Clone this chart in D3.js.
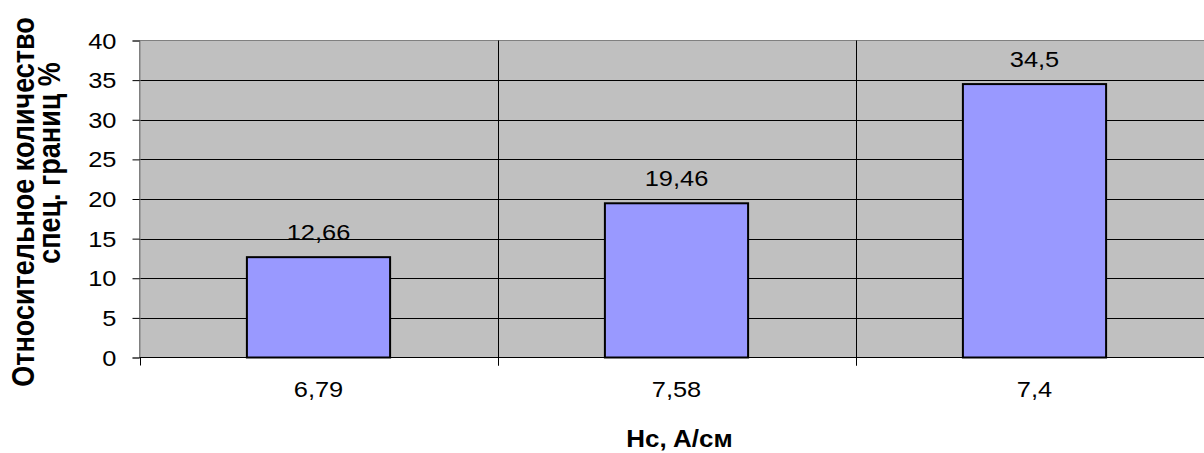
<!DOCTYPE html>
<html><head><meta charset="utf-8">
<script src="https://cdn.jsdelivr.net/npm/d3@7"></script>
<style>body{margin:0;background:#fff}svg{display:block}</style>
</head><body>
<svg id="c" width="1204" height="453"></svg>
<script>
const categories = ["6,79", "7,58", "7,4"];
const values = [12.66, 19.46, 34.5];
const valueLabels = ["12,66", "19,46", "34,5"];
const yTicks = [0, 5, 10, 15, 20, 25, 30, 35, 40];
const yTitle = ["Относительное количество", "спец. границ %"];
const xTitle = "Hc, A/см";

const svg = d3.select("#c");
const L = 139.5, R = 1213.5, T = 40.5, B = 357.5;
const font = "'Liberation Sans', Arial, sans-serif";
const SX = 1.13, FS = 22.5;

const x = d3.scaleBand().domain(categories).range([L, R]).paddingInner(0).paddingOuter(0);
const y = d3.scaleLinear().domain([0, 40]).range([B, T]);

function label(g, tx, ty, txt, anchor, size, weight) {
  return g.append("text")
    .attr("transform", `translate(${tx},${ty}) scale(${SX},1)`)
    .attr("text-anchor", anchor).attr("font-family", font).attr("font-size", size)
    .attr("font-weight", weight || "normal").attr("fill", "#000").text(txt);
}

svg.append("rect").attr("x", L).attr("y", T).attr("width", R - L).attr("height", B - T)
  .attr("fill", "#C0C0C0").attr("stroke", "#808080").attr("stroke-width", 1);

// horizontal gridlines
svg.append("g").selectAll("line").data(yTicks.filter(d => d > 0 && d < 40)).join("line")
  .attr("x1", L).attr("x2", R).attr("y1", d => Math.round(y(d)) + 0.5).attr("y2", d => Math.round(y(d)) + 0.5)
  .attr("stroke", "#000").attr("stroke-width", 1);

// vertical gridlines at category boundaries
const bounds = categories.slice(1).map(c => x(c));
svg.append("g").selectAll("line").data(bounds).join("line")
  .attr("x1", d => Math.round(d) + 0.5).attr("x2", d => Math.round(d) + 0.5)
  .attr("y1", T).attr("y2", B + 8)
  .attr("stroke", "#000").attr("stroke-width", 1);

// bars
const bw = x.bandwidth() * 0.4;
svg.append("g").selectAll("rect").data(values).join("rect")
  .attr("x", (d, i) => x(categories[i]) + x.bandwidth() / 2 - bw / 2)
  .attr("y", d => y(d))
  .attr("width", bw)
  .attr("height", d => y(0) - y(d))
  .attr("fill", "#9999FF").attr("stroke", "#000").attr("stroke-width", 2);

// value labels
const gv = svg.append("g");
values.forEach((v, i) => label(gv, x(categories[i]) + x.bandwidth() / 2, y(v) - 17.5, valueLabels[i], "middle", FS));

// y axis
const yAxis = d3.axisLeft(y).tickValues(yTicks).tickSize(7).tickFormat("");
const gy = svg.append("g").attr("transform", `translate(${L},0)`).call(yAxis);
gy.select(".domain").attr("stroke", "#808080");
gy.selectAll(".tick line").attr("stroke", "#000");
const gyl = svg.append("g");
yTicks.forEach(t => label(gyl, 116.5, y(t) + 8, String(t), "end", FS));

// x axis
const gx = svg.append("g").attr("transform", `translate(0,${B})`);
gx.append("line").attr("x1", L).attr("x2", R).attr("stroke", "#000");
gx.selectAll("line.t").data([L].concat(bounds)).join("line").attr("class", "t")
  .attr("x1", d => Math.round(d) + 0.5).attr("x2", d => Math.round(d) + 0.5).attr("y1", 0).attr("y2", 8)
  .attr("stroke", "#000");
const gxl = svg.append("g");
categories.forEach(c => label(gxl, x(c) + x.bandwidth() / 2, 397, c, "middle", FS));

// titles
label(svg, 679.5, 447.3, xTitle, "middle", 23, "bold");
svg.append("text").attr("transform", `translate(33.5,202) scale(${SX},1) rotate(-90)`)
  .attr("text-anchor", "middle").attr("font-family", font).attr("font-size", 27).attr("font-weight", "bold")
  .text(yTitle[0]);
svg.append("text").attr("transform", `translate(59.5,163) scale(${SX},1) rotate(-90)`)
  .attr("text-anchor", "middle").attr("font-family", font).attr("font-size", 27).attr("font-weight", "bold")
  .text(yTitle[1]);
</script>
</body></html>
